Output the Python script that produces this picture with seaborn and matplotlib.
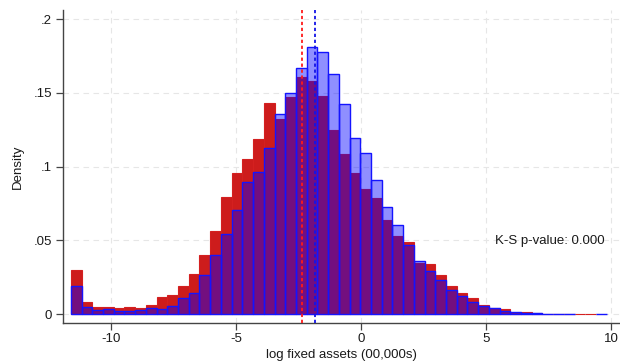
import numpy as np
import pandas as pd
import matplotlib
matplotlib.use("Agg")
import matplotlib.pyplot as plt
import seaborn as sns

# ---- data ----
bin_start = -11.6
bin_width = 0.4286
n_bins = 50

red_density = [0.0300, 0.0083, 0.0049, 0.0049, 0.0041, 0.0049, 0.0041, 0.0063, 0.0119, 0.0131,
               0.0194, 0.0273, 0.0402, 0.0566, 0.0797, 0.0955, 0.1050, 0.1186, 0.1430, 0.1323,
               0.1470, 0.1608, 0.1580, 0.1479, 0.1249, 0.1086, 0.0957, 0.0849, 0.0788, 0.0639,
               0.0530, 0.0490, 0.0350, 0.0341, 0.0264, 0.0192, 0.0142, 0.0110, 0.0065, 0.0043,
               0.0038, 0.0012, 0.0018, 0.0011, 0.0005, 0.0005, 0.0004, 0.0005, 0.0004, 0.0]

blue_density = [0.0192, 0.0047, 0.0027, 0.0034, 0.0022, 0.0024, 0.0026, 0.0041, 0.0034, 0.0056,
                0.0108, 0.0146, 0.0266, 0.0402, 0.0544, 0.0707, 0.0896, 0.0962, 0.1129, 0.1357,
                0.1497, 0.1667, 0.1809, 0.1779, 0.1630, 0.1423, 0.1192, 0.1091, 0.0910, 0.0729,
                0.0603, 0.0467, 0.0359, 0.0291, 0.0230, 0.0165, 0.0126, 0.0085, 0.0058, 0.0041,
                0.0022, 0.0014, 0.0007, 0.0006, 0.0005, 0.0005, 0.0004, 0.0, 0.0, 0.0004]

red_mean = -2.36
blue_mean = -1.84

x_ticks = [-10, -5, 0, 5, 10]
x_tick_labels = ["-10", "-5", "0", "5", "10"]
y_ticks = [0, 0.05, 0.1, 0.15, 0.2]
y_tick_labels = ["0", ".05", ".1", ".15", ".2"]
x_label = "log fixed assets (00,000s)"
y_label = "Density"
ks_text = "K-S p-value: 0.000"

# ---- build ----
edges = [bin_start + bin_width * i for i in range(n_bins + 1)]
centers = [(edges[i] + edges[i + 1]) / 2 for i in range(n_bins)]
df_red = pd.DataFrame({"x": centers, "w": red_density})
df_blue = pd.DataFrame({"x": centers, "w": blue_density})

sns.set_style("white")
plt.rcParams["font.family"] = ["Liberation Sans", "DejaVu Sans"]

FS = 9.5
fig = plt.figure(figsize=(6.2, 3.64), dpi=100)
ax = fig.add_axes([0.101, 0.1135, 0.899, 0.859])

sns.histplot(data=df_red, x="x", weights="w", bins=edges, stat="count",
             facecolor="#cd1c1c", edgecolor="#d42020", linewidth=0.8, ax=ax, zorder=2)
sns.histplot(data=df_blue, x="x", weights="w", bins=edges, stat="count",
             facecolor=(0.0, 0.0, 1.0, 0.44), edgecolor="#1414ff", linewidth=1.0, ax=ax, zorder=3)

for p in list(ax.patches):
    if p.get_height() == 0:
        p.remove()

ax.axvline(red_mean, color="#ff1a1a", ls=(0, (1.8, 1.5)), lw=1.3, zorder=5)
ax.axvline(blue_mean, color="#1414e6", ls=(0, (1.8, 1.5)), lw=1.3, zorder=5)

ax.text(5.35, 0.0497, ks_text, fontsize=FS, ha="left", va="center", color="#1a1a1a")

ax.set_xlim(-11.93, 10.36)
ax.set_ylim(-0.0057, 0.2062)
ax.set_xticks(x_ticks)
ax.set_xticklabels(x_tick_labels)
ax.set_yticks(y_ticks)
ax.set_yticklabels(y_tick_labels)
ax.set_xlabel(x_label, fontsize=FS, labelpad=2.5, color="#1a1a1a")
ax.set_ylabel(y_label, fontsize=FS, labelpad=7, color="#1a1a1a")

ax.grid(True, color="#e6e6e6", ls=(0, (5, 4)), lw=0.8, zorder=0)
ax.set_axisbelow(True)
for s in ["top", "right"]:
    ax.spines[s].set_visible(False)
for s in ["left", "bottom"]:
    ax.spines[s].set_color("#444444")
    ax.spines[s].set_linewidth(1.0)
ax.tick_params(axis="both", which="major", direction="out", length=5, width=0.9,
               color="#444444", labelsize=FS, labelcolor="#1a1a1a", pad=2.5,
               bottom=True, left=True)

fig.savefig("out.png", dpi=100)
